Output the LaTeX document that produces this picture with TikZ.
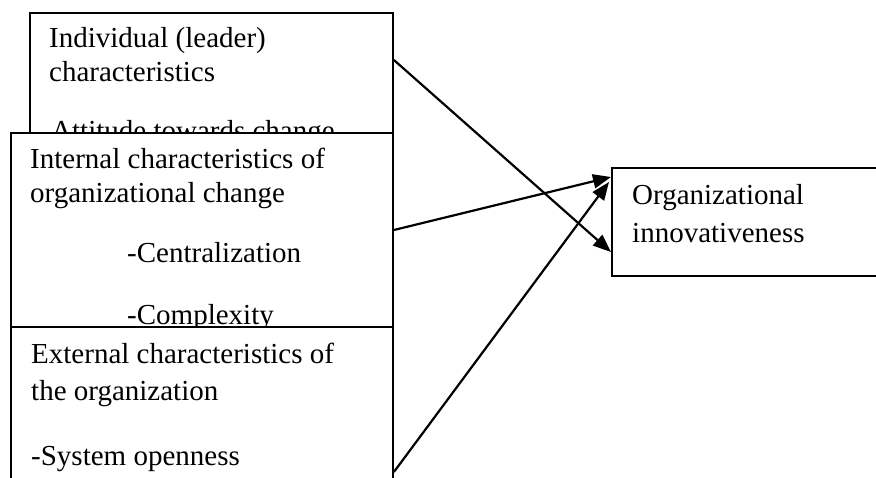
\documentclass[tikz,border=0pt]{standalone}
\usepackage{fontspec}
\setmainfont{Liberation Serif}
\usetikzlibrary{arrows.meta}
\begin{document}
\begin{tikzpicture}[x=1pt,y=-1pt,
  box/.style={draw=black, fill=white, line width=2.2pt, rectangle, inner sep=0pt, anchor=north west},
  txt/.style={inner sep=0pt, anchor=base west, font=\fontsize{29}{35}\selectfont},
  link/.style={draw=black, line width=2.2pt, -{Triangle[length=18pt,width=14pt]}}]
\clip (0,0) rectangle (876,478);
\fill[white] (0,0) rectangle (876,478);
% box 1
\node[box, minimum width=362.7pt, minimum height=200pt] (b1) at (29,12) {};
\node[txt] (b1a) at (49,48) {Individual (leader)};
\node[txt] (b1b) at (49,82) {characteristics};
\node[txt] (b1c) at (51,141) {Attitude towards change};
% box 2
\node[box, minimum width=381.7pt, minimum height=194pt] (b2) at (10,132) {};
\node[txt] (b2a) at (30,169) {Internal characteristics of};
\node[txt] (b2b) at (30,203) {organizational change};
\node[txt] (b2c) at (127,263) {-Centralization};
\node[txt] (b2d) at (127,325) {-Complexity};
% box 3
\node[box, minimum width=381.7pt, minimum height=180pt] (b3) at (10,326) {};
\node[txt] (b3a) at (31,363) {External characteristics of};
\node[txt] (b3b) at (31,401) {the organization};
\node[txt] (b3c) at (31,465) {-System openness};
% outcome box
\node[box, minimum width=300pt, minimum height=108pt] (out) at (611,167) {};
\node[txt] (outa) at (632,205) {Organizational};
\node[txt] (outb) at (632,243) {innovativeness};
% connectors
\draw[link] ([yshift=-48pt]b1.north east) -- ([yshift=-85pt]out.north west);
\draw[link] ([yshift=-98pt]b2.north east) -- ([yshift=-10pt]out.north west);
\draw[link] ([yshift=-146pt]b3.north east) -- ([yshift=-15pt,xshift=-2pt]out.north west);
\end{tikzpicture}
\end{document}
